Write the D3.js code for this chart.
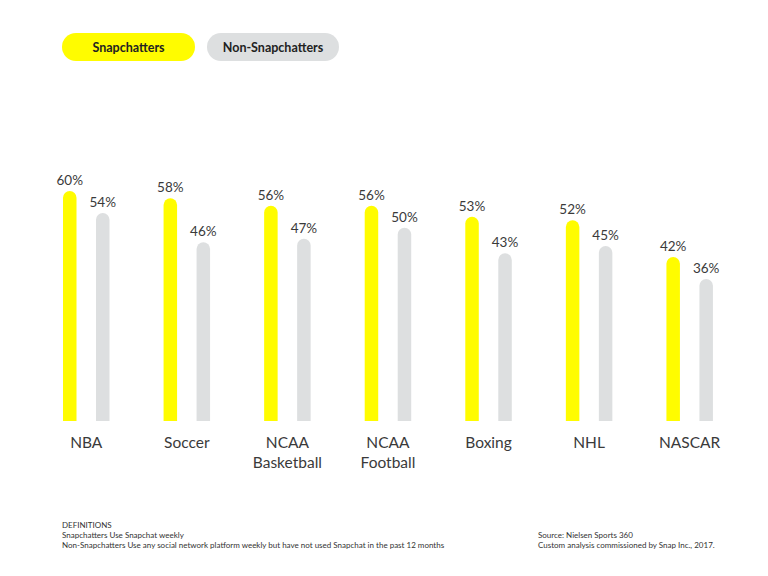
<!DOCTYPE html>
<html><head><meta charset="utf-8">
<script src="https://cdn.jsdelivr.net/npm/d3@7"></script>
<style>body{margin:0;background:#fff}svg{display:block}</style>
</head><body>
<script>
const categories = [["NBA"],["Soccer"],["NCAA","Basketball"],["NCAA","Football"],["Boxing"],["NHL"],["NASCAR"]];
const snapchatters = [60,58,56,56,53,52,42];
const nonSnapchatters = [54,46,47,50,43,45,36];
const seriesNames = ["Snapchatters","Non-Snapchatters"];
const colors = ["#FFFC00","#DDDFE0"];

const W=768,H=576;
const svg=d3.select("body").append("svg").attr("width",W).attr("height",H);
const font="Lato, 'Noto Sans', sans-serif";

const x=d3.scaleBand().domain(d3.range(categories.length)).range([46,750]).paddingInner(0).paddingOuter(0);
const y=d3.scaleLinear().domain([-2.73,60]).range([421,191]);
const bw=13.5, off=33;

function barPath(x0,yTop,w,yBot){
  const r=w/2;
  return `M${x0},${yBot}V${yTop+r}A${r},${r} 0 0 1 ${x0+w},${yTop+r}V${yBot}Z`;
}

const series=[snapchatters,nonSnapchatters];
series.forEach((vals,si)=>{
  const g=svg.append("g");
  vals.forEach((v,i)=>{
    const x0=x(i)+17+si*off;
    g.append("path").attr("d",barPath(x0,y(v),bw,y(-2.73))).attr("fill",colors[si]);
    g.append("text").attr("x",x0+bw/2).attr("y",y(v)-6).attr("text-anchor","middle")
      .attr("font-family",font).attr("font-size",13.5).attr("fill","#3a3a3a").text(v+"%");
  });
});

categories.forEach((lines,i)=>{
  const cx=x(i)+17+(off+bw)/2;
  const t=svg.append("text").attr("x",cx).attr("y",448).attr("text-anchor","middle")
    .attr("font-family",font).attr("font-size",15.5).attr("fill","#3a3a3a");
  lines.forEach((l,j)=>t.append("tspan").attr("x",cx).attr("dy",j?20:0).text(l));
});

// legend
const leg=[{x:62,w:133},{x:207,w:132}];
seriesNames.forEach((n,i)=>{
  svg.append("rect").attr("x",leg[i].x).attr("y",33).attr("width",leg[i].w).attr("height",28)
    .attr("rx",14).attr("fill",colors[i]);
  svg.append("text").attr("x",leg[i].x+leg[i].w/2).attr("y",51.5).attr("text-anchor","middle")
    .attr("font-family",font).attr("font-weight","bold").attr("font-size",12.5).attr("fill","#222").text(n);
});

const foot=["DEFINITIONS","Snapchatters  Use Snapchat weekly","Non-Snapchatters Use any social network platform weekly but have not used Snapchat in the past 12 months"];
foot.forEach((t,i)=>svg.append("text").attr("x",62).attr("y",528+i*10).attr("font-family",font)
  .attr("font-size",8).attr("fill","#333").text(t));
const src=["Source: Nielsen Sports 360","Custom analysis commissioned by Snap Inc., 2017."];
src.forEach((t,i)=>svg.append("text").attr("x",538).attr("y",538+i*10).attr("font-family",font)
  .attr("font-size",8).attr("fill","#333").text(t));
</script>
</body></html>
